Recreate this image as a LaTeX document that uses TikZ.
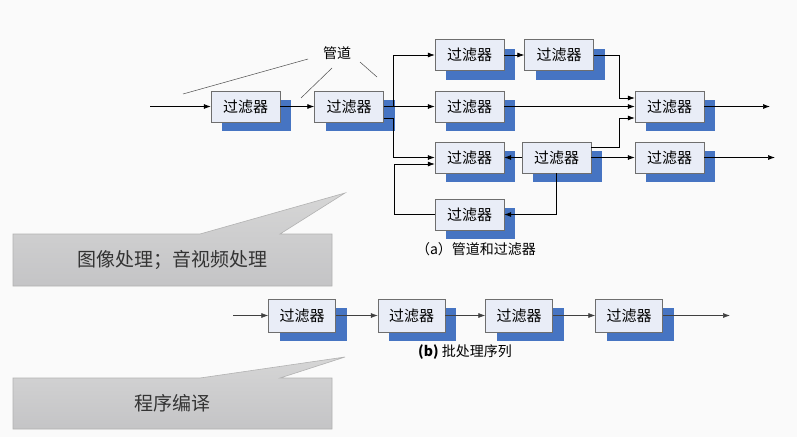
\documentclass[tikz,border=0pt]{standalone}
\usepackage{fontspec}
\setmainfont{Noto Sans CJK SC}
\usetikzlibrary{shadows,arrows.meta}
\definecolor{boxfill}{HTML}{E9EDF7}
\definecolor{boxline}{HTML}{6E6E6E}
\definecolor{shadowblue}{HTML}{4674C2}
\definecolor{calltop}{HTML}{D6D6D6}
\definecolor{callbot}{HTML}{C4C4C6}
\tikzset{
  filt/.style={draw=boxline, fill=boxfill, minimum width=69pt, minimum height=31pt, inner sep=0pt,
    font=\fontsize{15}{15}\selectfont,
    drop shadow={shadow xshift=11pt, shadow yshift=-9pt, fill=shadowblue, opacity=1}},
  filtb/.style={filt, minimum width=67pt, minimum height=33pt},
  arr/.style={draw=black, line width=0.7pt, -{Latex[length=7pt,width=5pt]}},
  arrb/.style={draw=black!75, line width=0.6pt, -{Latex[length=7pt,width=5pt]}},
  thin/.style={draw=black!70, line width=0.5pt},
  callout/.style={draw=black!30, line width=0.6pt, top color=calltop, bottom color=callbot},
}
\begin{document}
\begin{tikzpicture}[x=1pt,y=-1pt]
\useasboundingbox (0,0) rectangle (797,437);
\fill[black!2] (0,0) rectangle (797,437);

% ---- (a) pipes and filters ----
\node[filt] (A1) at (245.5,106.5) {过滤器};
\node[filt] (A2) at (349,106.5) {过滤器};
\node[filt] (T1) at (469.5,55) {过滤器};
\node[filt] (T2) at (559,55) {过滤器};
\node[filt] (M1) at (469.5,106.5) {过滤器};
\node[filt] (R)  at (669.5,106.5) {过滤器};
\node[filt] (B1) at (469.5,157.5) {过滤器};
\node[filt] (B2) at (556.5,157.5) {过滤器};
\node[filt] (B3) at (669.5,157.5) {过滤器};
\node[filt] (L)  at (469.5,214.5) {过滤器};

\coordinate (in1) at (150,106.5);
\coordinate (out1) at (770,106.5);
\coordinate (out2) at (775,157.5);

\draw[arr] (in1) -- (A1.west);
\draw[arr] (A1.east) -- (A2.west);
\draw[arr] (A2.east) -- ++(10,0) |- (T1.west);
\draw[arr] (A2.east) -- (M1.west);
\draw[arr] ([yshift=-11.5pt]A2.east) -- ++(10,0) |- (B1.west);
\draw[arr] (L.west) -- ++(-40,0) |- ([yshift=-6.5pt]B1.west);
\draw[arr] (T1.east) -- (T2.west);
\draw[arr] (B2.west) -- (B1.east);
\draw[arr] (B2.east) -- (B3.west);
\draw[arr] (B2.south) |- (L.east);
\draw[arr] ([yshift=10.5pt]B2.east) -- ++(28,0) |- ([yshift=-11.5pt]R.west);
\draw[arr] (T2.east) -- ++(26,0) |- ([yshift=8.5pt]R.west);
\draw[arr] (M1.east) -- (R.west);
\draw[arr] (R.east) -- (out1);
\draw[arr] (B3.east) -- (out2);

% pipe label
\node[font=\fontsize{14}{14}\selectfont] (pipe) at (337,53) {管道};
\coordinate (p1a) at (308,59);  \coordinate (p1b) at (183,94);
\coordinate (p2a) at (332,68);  \coordinate (p2b) at (301,98);
\coordinate (p3a) at (360,62);  \coordinate (p3b) at (377,77);
\draw[thin] (p1a) -- (p1b);
\draw[thin] (p2a) -- (p2b);
\draw[thin] (p3a) -- (p3b);

\node[font=\fontsize{14}{14}\selectfont] (capa) at (476,249) {（a）管道和过滤器};

% ---- (b) batch sequence ----
\node[filtb] (C1) at (302,315.5) {过滤器};
\node[filtb] (C2) at (411.5,315.5) {过滤器};
\node[filtb] (C3) at (519,315.5) {过滤器};
\node[filtb] (C4) at (629,315.5) {过滤器};
\coordinate (in2) at (233,315.5);
\coordinate (out3) at (730,315.5);
\draw[arrb] (in2) -- (C1.west);
\draw[arrb] (C1.east) -- (C2.west);
\draw[arrb] (C2.east) -- (C3.west);
\draw[arrb] (C3.east) -- (C4.west);
\draw[arrb] (C4.east) -- (out3);
\node[font=\fontsize{14}{14}\selectfont] (capb) at (465,352) {\textbf{(b)} 批处理序列};

% ---- callouts ----
\path[callout] (13,234) -- (200,234) -- (345,193) -- (280,234) -- (332,234) -- (332,286) -- (13,286) -- cycle;
\node[font=\fontsize{19}{19}\selectfont, text=black!80] (c1) at (172,260) {图像处理；音视频处理};
\path[callout] (13,378) -- (200,378) -- (345,357) -- (280,378) -- (332,378) -- (332,429) -- (13,429) -- cycle;
\node[font=\fontsize{19}{19}\selectfont, text=black!80] (c2) at (172,403) {程序编译};
\end{tikzpicture}
\end{document}
